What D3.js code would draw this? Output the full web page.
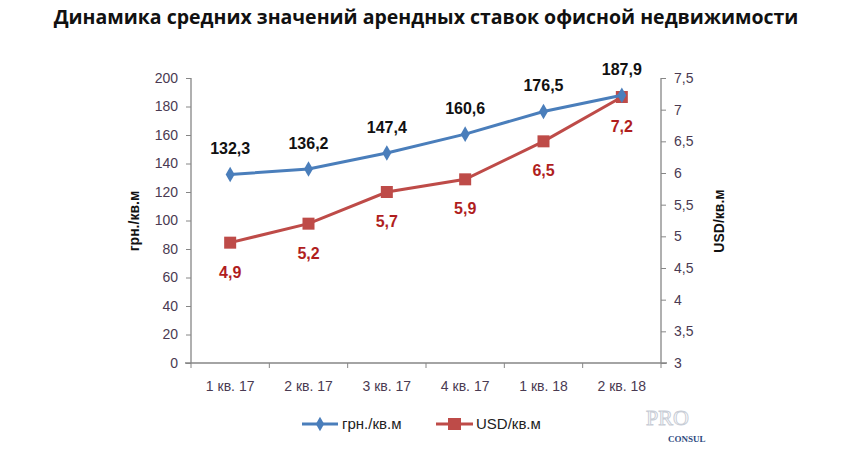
<!DOCTYPE html>
<html><head><meta charset="utf-8">
<script src="https://cdn.jsdelivr.net/npm/d3@7"></script>
<style>body{margin:0;background:#fff}svg{display:block}</style>
</head><body><svg id="c" width="850" height="450"></svg>
<script>
const title = "Динамика средних значений арендных ставок офисной недвижимости";
const categories = ["1 кв. 17","2 кв. 17","3 кв. 17","4 кв. 17","1 кв. 18","2 кв. 18"];
const uahValues = [132.3, 136.2, 147.4, 160.6, 176.5, 187.9];
const usdValues = [4.9, 5.2, 5.7, 5.9, 6.5, 7.2];
const leftTicks = [0,20,40,60,80,100,120,140,160,180,200];
const rightTicks = [3,3.5,4,4.5,5,5.5,6,6.5,7,7.5];
const seriesNames = ["грн./кв.м","USD/кв.м"];
const leftTitle = "грн./кв.м";
const rightTitle = "USD/кв.м";

const svg = d3.select("#c");
const L = 191, R = 661, T = 78, B = 363;
const blue = "#4a7ebb", red = "#be4b48";
const tickCol = "#4a3a52";
const axisCol = "#868686";
const fmt = v => String(v).replace(".", ",");

const x = d3.scaleBand().domain(categories).range([L, R]).padding(0);
const yL = d3.scaleLinear().domain([0,200]).range([B, T]);
const yR = d3.scaleLinear().domain([3,7.5]).range([B, T]);

svg.append("text").attr("x", 426).attr("y", 24).attr("text-anchor","middle")
  .attr("font-family","Open Sans, sans-serif").attr("font-weight","700").attr("font-size",19.5)
  .attr("fill","#111").text(title);

const gL = svg.append("g").attr("transform",`translate(${L},0)`)
  .call(d3.axisLeft(yL).tickValues(leftTicks).tickSize(5).tickPadding(8).tickFormat(d=>d));
const gR = svg.append("g").attr("transform",`translate(${R},0)`)
  .call(d3.axisRight(yR).tickValues(rightTicks).tickSize(5).tickPadding(8).tickFormat(fmt));
const gX = svg.append("g").attr("transform",`translate(0,${B})`)
  .call(d3.axisBottom(x).tickSize(0).tickPadding(18));
svg.append("g").selectAll("line").data(d3.range(categories.length+1)).join("line")
  .attr("x1", i => L + i*x.step()).attr("x2", i => L + i*x.step())
  .attr("y1", B).attr("y2", B+5).attr("stroke", axisCol);
[gL,gR,gX].forEach(g=>{
  g.select(".domain").attr("stroke",axisCol).attr("stroke-width",1.3);
  g.selectAll(".tick line").attr("stroke",axisCol);
  g.selectAll(".tick text").attr("fill",tickCol).attr("font-family","Liberation Sans, Arial, sans-serif").attr("font-size",14);
});
gX.select(".domain").attr("d",`M${L-6},0H${R+6}`);
gL.select(".domain").attr("d",`M0,${T}V${B}`);
gR.select(".domain").attr("d",`M0,${T}V${B}`);

svg.append("text").attr("transform",`translate(139,221) rotate(-90)`).attr("text-anchor","middle")
  .attr("font-family","Liberation Sans, Arial, sans-serif").attr("font-weight","700").attr("font-size",14)
  .attr("fill","#111").text(leftTitle);
svg.append("text").attr("transform",`translate(724,221) rotate(-90)`).attr("text-anchor","middle")
  .attr("font-family","Liberation Sans, Arial, sans-serif").attr("font-weight","700").attr("font-size",14)
  .attr("fill","#111").text(rightTitle);

const cx = d => x(d) + x.bandwidth()/2;

svg.append("path").datum(usdValues).attr("fill","none").attr("stroke",red).attr("stroke-width",3)
  .attr("d", d3.line().x((d,i)=>cx(categories[i])).y(d=>yR(d)));
svg.append("g").selectAll("rect").data(usdValues).join("rect")
  .attr("x",(d,i)=>cx(categories[i])-6).attr("y",d=>yR(d)-6).attr("width",12).attr("height",12).attr("fill",red);
svg.append("path").datum(uahValues).attr("fill","none").attr("stroke",blue).attr("stroke-width",3)
  .attr("d", d3.line().x((d,i)=>cx(categories[i])).y(d=>yL(d)));
svg.append("g").selectAll("path").data(uahValues).join("path")
  .attr("d", d3.symbol(d3.symbolDiamond, 70)).attr("transform",(d,i)=>`translate(${cx(categories[i])},${yL(d)})`)
  .attr("fill",blue);

svg.append("g").selectAll("text").data(uahValues).join("text")
  .attr("x",(d,i)=>cx(categories[i])).attr("y",d=>yL(d)-20).attr("text-anchor","middle")
  .attr("font-family","Liberation Sans, Arial, sans-serif").attr("font-weight","700").attr("font-size",16)
  .attr("fill","#111").text(fmt);
svg.append("g").selectAll("text").data(usdValues).join("text")
  .attr("x",(d,i)=>cx(categories[i])).attr("y",d=>yR(d)+35).attr("text-anchor","middle")
  .attr("font-family","Liberation Sans, Arial, sans-serif").attr("font-weight","700").attr("font-size",16)
  .attr("fill","#b01e1e").text(fmt);

const lg = svg.append("g");
lg.append("line").attr("x1",302).attr("x2",338).attr("y1",424).attr("y2",424).attr("stroke",blue).attr("stroke-width",3);
lg.append("path").attr("d", d3.symbol(d3.symbolDiamond, 60)).attr("transform","translate(320,424)").attr("fill",blue);
lg.append("text").attr("x",342).attr("y",429).attr("font-family","Liberation Sans, Arial, sans-serif")
  .attr("font-size",15).attr("fill","#222").text(seriesNames[0]);
lg.append("line").attr("x1",436).attr("x2",473).attr("y1",424).attr("y2",424).attr("stroke",red).attr("stroke-width",3);
lg.append("rect").attr("x",448).attr("y",418).attr("width",13).attr("height",12).attr("fill",red);
lg.append("text").attr("x",476).attr("y",429).attr("font-family","Liberation Sans, Arial, sans-serif")
  .attr("font-size",15).attr("fill","#222").text(seriesNames[1]);

svg.append("text").attr("x",646).attr("y",425).attr("font-family","Liberation Serif, serif").attr("font-size",22)
  .attr("fill","none").attr("stroke","#c8cdd6").attr("stroke-width",1).text("PRO");
svg.append("text").attr("x",668).attr("y",442).attr("font-family","Liberation Serif, serif").attr("font-weight","700")
  .attr("font-size",9).attr("fill","#2e4a80").text("CONSUL");
</script></body></html>
